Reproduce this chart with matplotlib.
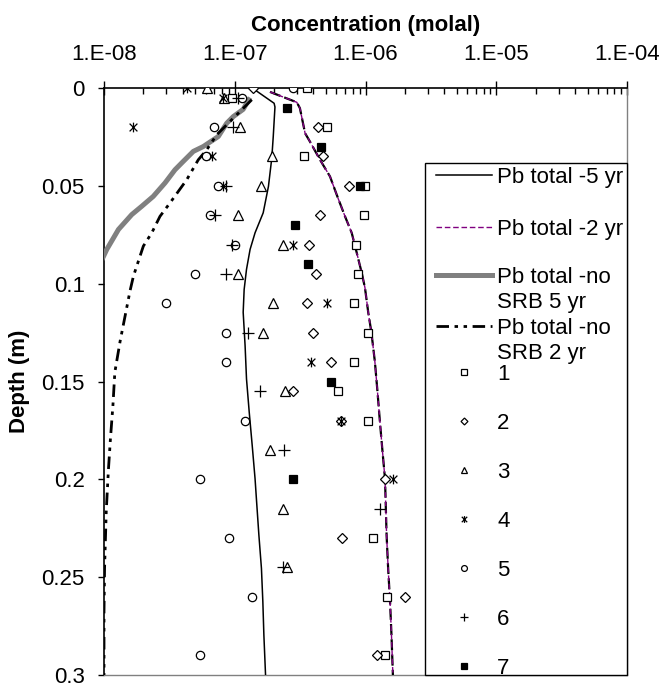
import numpy as np
import matplotlib
matplotlib.use('Agg')
import matplotlib.pyplot as plt
from matplotlib.path import Path
from matplotlib.lines import Line2D
from matplotlib.patches import Rectangle
from matplotlib.ticker import FixedLocator, FuncFormatter, LogLocator, NullFormatter

plt.rcParams['font.family'] = ['Liberation Sans', 'DejaVu Sans']
plt.rcParams['lines.scale_dashes'] = False

# ---------------- model curves (depth m, concentration molal) ----------------
d_5yr = [0.0, 0.0078, 0.0097, 0.0248, 0.0358, 0.0503, 0.0638, 0.074, 0.0825, 0.0927,
         0.103, 0.1146, 0.1318, 0.1487, 0.1656, 0.1827, 0.1997, 0.2116, 0.2286, 0.2455,
         0.2625, 0.2795, 0.3]
c_5yr = [1.36e-7, 2.0e-7, 2.03e-7, 1.97e-7, 1.92e-7, 1.81e-7, 1.65e-7, 1.43e-7, 1.31e-7, 1.23e-7,
         1.18e-7, 1.16e-7, 1.2e-7, 1.23e-7, 1.29e-7, 1.36e-7, 1.43e-7, 1.47e-7, 1.53e-7, 1.6e-7,
         1.64e-7, 1.67e-7, 1.72e-7]

d_2yr = [0.002, 0.0073, 0.0103, 0.0231, 0.0274, 0.0367, 0.0452, 0.0554, 0.0656, 0.074,
         0.0842, 0.0944, 0.102, 0.1148, 0.125, 0.140, 0.1538, 0.1708, 0.186, 0.1997,
         0.2286, 0.2455, 0.2623, 0.2795, 0.3]
c_2yr = [1.86e-7, 2.98e-7, 3.15e-7, 3.45e-7, 3.76e-7, 4.49e-7, 5.35e-7, 6.09e-7, 6.97e-7, 7.84e-7,
         8.57e-7, 9.35e-7, 9.9e-7, 1.05e-6, 1.11e-6, 1.18e-6, 1.23e-6, 1.29e-6, 1.35e-6, 1.41e-6,
         1.45e-6, 1.49e-6, 1.54e-6, 1.58e-6, 1.62e-6]

d_nosrb5 = [0.006, 0.0109, 0.0146, 0.018, 0.0248, 0.0299, 0.0324, 0.0375, 0.0418, 0.0485,
            0.0554, 0.0605, 0.0647, 0.0723, 0.0825, 0.090, 0.100]
c_nosrb5 = [1.28e-7, 1.16e-7, 9.75e-8, 8.68e-8, 7.48e-8, 5.75e-8, 4.82e-8, 4.04e-8, 3.49e-8, 2.93e-8,
            2.38e-8, 1.94e-8, 1.63e-8, 1.29e-8, 1.05e-8, 9.3e-9, 7.0e-9]

d_nosrb2 = [0.006, 0.0239, 0.0316, 0.0367, 0.0469, 0.0587, 0.0656, 0.074, 0.0808, 0.0961,
            0.1038, 0.1165, 0.1292, 0.1453, 0.1623, 0.1793, 0.1955, 0.2165, 0.2455, 0.2674, 0.3]
c_nosrb2 = [1.35e-7, 7.28e-8, 6.1e-8, 5.26e-8, 4.29e-8, 3.2e-8, 2.68e-8, 2.32e-8, 2.0e-8, 1.68e-8,
            1.58e-8, 1.45e-8, 1.33e-8, 1.21e-8, 1.17e-8, 1.12e-8, 1.08e-8, 1.04e-8, 1.01e-8, 1.0e-8, 1.0e-8]

# ---------------- measured series 1..7 ----------------
d1 = [0.005, 0.0, 0.02, 0.035, 0.05, 0.065, 0.08, 0.095, 0.11, 0.125, 0.14, 0.155, 0.17, 0.23, 0.26, 0.29]
c1 = [9.5e-8, 3.6e-7, 5.1e-7, 3.4e-7, 9.9e-7, 9.8e-7, 8.5e-7, 8.8e-7, 8.2e-7, 1.05e-6, 8.2e-7, 6.2e-7,
      1.05e-6, 1.15e-6, 1.47e-6, 1.41e-6]
d2 = [0.0, 0.02, 0.035, 0.05, 0.065, 0.08, 0.095, 0.11, 0.125, 0.14, 0.155, 0.17, 0.2, 0.23, 0.26, 0.29]
c2 = [1.38e-7, 4.3e-7, 4.7e-7, 7.5e-7, 4.5e-7, 3.7e-7, 4.2e-7, 3.6e-7, 4.0e-7, 5.4e-7, 2.8e-7, 6.5e-7,
      1.41e-6, 6.6e-7, 2.0e-6, 1.22e-6]
d3 = [0.0, 0.005, 0.02, 0.035, 0.05, 0.065, 0.08, 0.095, 0.11, 0.125, 0.155, 0.185, 0.215, 0.245]
c3 = [6.1e-8, 8.3e-8, 1.1e-7, 1.92e-7, 1.6e-7, 1.06e-7, 2.33e-7, 1.06e-7, 1.95e-7, 1.64e-7, 2.42e-7,
      1.86e-7, 2.34e-7, 2.52e-7]
d4 = [0.0, 0.005, 0.02, 0.035, 0.05, 0.08, 0.11, 0.14, 0.17, 0.2]
c4 = [4.3e-8, 8.1e-8, 1.67e-8, 6.7e-8, 8.1e-8, 2.8e-7, 5.1e-7, 3.8e-7, 6.5e-7, 1.63e-6]
d5 = [0.0, 0.005, 0.02, 0.035, 0.05, 0.065, 0.08, 0.095, 0.11, 0.125, 0.14, 0.17, 0.2, 0.23, 0.26, 0.29]
c5 = [2.77e-7, 1.14e-7, 7.0e-8, 6.0e-8, 7.5e-8, 6.5e-8, 1.0e-7, 5.0e-8, 3.0e-8, 8.6e-8, 8.6e-8, 1.19e-7,
      5.4e-8, 9.0e-8, 1.35e-7, 5.4e-8]
d6 = [0.005, 0.02, 0.05, 0.065, 0.08, 0.095, 0.125, 0.155, 0.185, 0.215, 0.245]
c6 = [1.06e-7, 9.65e-8, 8.6e-8, 7.1e-8, 9.5e-8, 8.6e-8, 1.27e-7, 1.56e-7, 2.39e-7, 1.28e-6, 2.33e-7]
d7 = [0.01, 0.03, 0.05, 0.07, 0.09, 0.15, 0.2]
c7 = [2.5e-7, 4.57e-7, 9.1e-7, 2.9e-7, 3.65e-7, 5.45e-7, 2.8e-7]

x_ticks = [1e-8, 1e-7, 1e-6, 1e-5, 1e-4]
y_ticks = [0, 0.05, 0.1, 0.15, 0.2, 0.25, 0.3]

# star marker like Excel (x with vertical bar)
star = Path([(0, -1), (0, 1), (-0.8, -0.8), (0.8, 0.8), (-0.8, 0.8), (0.8, -0.8)],
            [Path.MOVETO, Path.LINETO, Path.MOVETO, Path.LINETO, Path.MOVETO, Path.LINETO])

W, H = 665, 685
fig = plt.figure(figsize=(W / 100, H / 100), dpi=100)
ax = fig.add_axes([104 / W, 1 - 675 / H, (627 - 104) / W, (675 - 88) / H])
ax.set_xscale('log')
ax.set_xlim(1e-8, 1e-4)
ax.set_ylim(0.3, 0)

# lines
l5, = ax.plot(c_5yr, d_5yr, color='black', lw=1.1, zorder=3)
ax.plot(c_2yr, d_2yr, color='black', lw=1.6, dashes=(8, 3), zorder=3)
l2, = ax.plot(c_2yr, d_2yr, color='#800080', lw=1.0, dashes=(4, 2), zorder=3.1)
lg, = ax.plot(c_nosrb5, d_nosrb5, color='#808080', lw=3.6, zorder=3)
ld, = ax.plot(c_nosrb2, d_nosrb2, color='black', lw=2.0, dashes=(9, 4, 2.5, 4, 2.5, 4), zorder=3)

mk = dict(linestyle='none', color='black', mec='black', mew=0.9, zorder=4)
p1, = ax.plot(c1, d1, marker='s', ms=5.5, mfc='white', **mk)
p2, = ax.plot(c2, d2, marker='D', ms=5.0, mfc='white', **mk)
p3, = ax.plot(c3, d3, marker='^', ms=6.5, mfc='white', **mk)
p4, = ax.plot(c4, d4, marker=star, ms=7, **mk)
p5, = ax.plot(c5, d5, marker='o', ms=6, mfc='white', **mk)
p6, = ax.plot(c6, d6, marker='+', ms=8, **mk)
p7, = ax.plot(c7, d7, marker='s', ms=5.5, mfc='black', **mk)

# axes styling
ax.xaxis.tick_top()
ax.xaxis.set_label_position('top')
ax.xaxis.set_major_locator(FixedLocator(x_ticks))
ax.xaxis.set_minor_locator(LogLocator(base=10, subs=np.arange(2, 10), numticks=20))
ax.xaxis.set_major_formatter(FuncFormatter(lambda v, p: "1.E%+03d" % int(round(np.log10(v)))))
ax.xaxis.set_minor_formatter(NullFormatter())
ax.tick_params(axis='x', which='major', direction='inout', length=9.5, width=1, labelsize=16, pad=12)
ax.tick_params(axis='x', which='minor', direction='in', length=4.3, width=1)
ax.set_yticks(y_ticks)
ax.yaxis.set_major_formatter(FuncFormatter(lambda v, p: "%g" % round(v, 3)))
ax.tick_params(axis='y', direction='out', length=4.3, width=1, labelsize=16, pad=9.5)
ax.set_xlabel('Concentration (molal)', fontsize=16, fontweight='bold', labelpad=9)
ax.set_ylabel('Depth (m)', fontsize=16, fontweight='bold', labelpad=8)
for s in ['left', 'top']:
    ax.spines[s].set_color('black')
    ax.spines[s].set_linewidth(1.2)
for s in ['right', 'bottom']:
    ax.spines[s].set_color('#808080')
    ax.spines[s].set_linewidth(1.0)

# legend frame
frame = Rectangle((425 / W, 1 - 675 / H), (627 - 425) / W, (675 - 163) / H,
                  transform=fig.transFigure, facecolor='white', edgecolor='black', lw=1.0, zorder=4)
fig.add_artist(frame)

blank = Line2D([], [], linestyle='none')
common = dict(frameon=False, fontsize=16, borderpad=0, borderaxespad=0, handlelength=2.5,
              handletextpad=0.25, loc='upper left', bbox_transform=fig.transFigure)
legA = fig.legend([l5, l2], ['Pb total -5 yr', 'Pb total -2 yr'], labelspacing=1.4,
                  bbox_to_anchor=(436 / W, 1 - 167 / H), **common)
legB = fig.legend([lg, blank, ld, blank], ['Pb total -no', 'SRB 5 yr', 'Pb total -no', 'SRB 2 yr'],
                  labelspacing=0.2, bbox_to_anchor=(436 / W, 1 - 267 / H), **common)
legC = fig.legend([p1, p2, p3, p4, p5, p6, p7], ['1', '2', '3', '4', '5', '6', '7'],
                  labelspacing=1.26, markerscale=0.7, bbox_to_anchor=(436 / W, 1 - 364 / H), **common)
for lg_ in (legA, legB, legC):
    lg_.set_zorder(5)
for t in legC.get_texts():
    t.set_clip_path(frame)
for h in legC.legend_handles:
    h.set_clip_path(frame)

fig.savefig('out.png', dpi=100)
